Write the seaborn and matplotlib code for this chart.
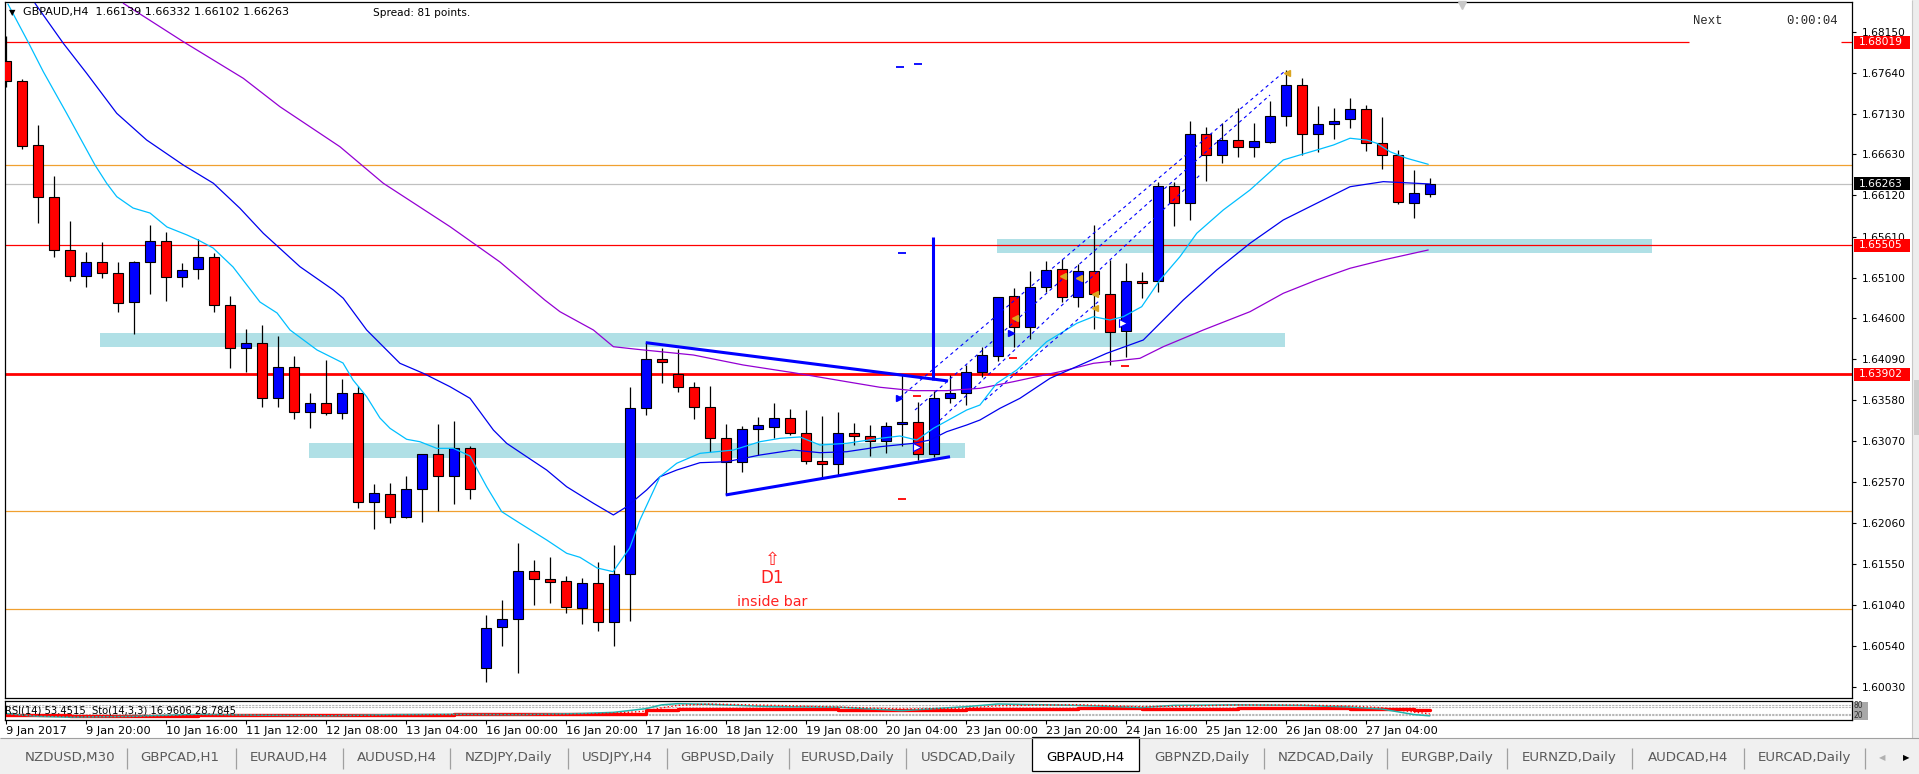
import matplotlib
matplotlib.use("Agg")
import matplotlib.pyplot as plt
import matplotlib.transforms as mtransforms
from matplotlib.patches import Rectangle
import seaborn as sns

# GBPAUD H4, 90 bars: 9 Jan 2017 00:00 ... 27 Jan 2017 20:00
opens = [1.67787, 1.67539, 1.66745, 1.66097, 1.65444, 1.65121, 1.65291, 1.65155, 1.64795, 1.65291,
         1.65555, 1.65105, 1.65204, 1.65353, 1.64762, 1.64225, 1.64287, 1.63605, 1.63997, 1.63432,
         1.63543, 1.63419, 1.63667, 1.62323, 1.62415, 1.62130, 1.62477, 1.62911, 1.62646, 1.62985,
         1.60258, 1.60766, 1.60866, 1.61461, 1.61361, 1.61337, 1.61002, 1.61312, 1.60836, 1.61423,
         1.63481, 1.64089, 1.63903, 1.63742, 1.63494, 1.63109, 1.62812, 1.63221, 1.63253, 1.63357,
         1.63171, 1.62832, 1.62787, 1.63171, 1.63142, 1.63080, 1.63283, 1.63308, 1.62911, 1.63605,
         1.63667, 1.63935, 1.64133, 1.64870, 1.64486, 1.64981, 1.65204, 1.64857, 1.65183, 1.64895,
         1.64443, 1.65059, 1.65059, 1.66237, 1.66023, 1.66878, 1.66618, 1.66807, 1.66724, 1.66786,
         1.67101, 1.67486, 1.66878, 1.67002, 1.67064, 1.67188, 1.66767, 1.66618, 1.66030, 1.66139]
highs = [1.68097, 1.67564, 1.66993, 1.66365, 1.65807, 1.65415, 1.65539, 1.65291, 1.65307, 1.65754,
         1.65663, 1.65279, 1.65576, 1.65403, 1.64877, 1.64464, 1.64514, 1.64378, 1.64130, 1.63667,
         1.64080, 1.63845, 1.63758, 1.62543, 1.62552, 1.62642, 1.62915, 1.63287, 1.63324, 1.63014,
         1.60919, 1.61105, 1.61808, 1.61601, 1.61638, 1.61402, 1.61381, 1.61580, 1.61787, 1.63742,
         1.64295, 1.64225, 1.64213, 1.63804, 1.63758, 1.63287, 1.63262, 1.63377, 1.63543, 1.63473,
         1.63460, 1.63386, 1.63432, 1.63295, 1.63274, 1.63308, 1.63894, 1.63556, 1.63700, 1.63894,
         1.64018, 1.64245, 1.64862, 1.64969, 1.65183, 1.65307, 1.65329, 1.65267, 1.65754, 1.65320,
         1.65286, 1.65171, 1.66283, 1.66283, 1.67043, 1.66965, 1.67022, 1.67200, 1.67022, 1.67291,
         1.67675, 1.67572, 1.67229, 1.67208, 1.67324, 1.67241, 1.67093, 1.66683, 1.66436, 1.66332]
lows = [1.67461, 1.66696, 1.65782, 1.65361, 1.65063, 1.64989, 1.65093, 1.64679, 1.64399, 1.64895,
        1.64815, 1.64989, 1.65080, 1.64679, 1.63977, 1.63935, 1.63501, 1.63501, 1.63345, 1.63241,
        1.63402, 1.63352, 1.62249, 1.61989, 1.62063, 1.62125, 1.62076, 1.62208, 1.62299, 1.62361,
        1.60092, 1.60538, 1.60204, 1.61047, 1.61071, 1.60940, 1.60803, 1.60724, 1.60538, 1.60848,
        1.63398, 1.63799, 1.63687, 1.63352, 1.62943, 1.62407, 1.62695, 1.62902, 1.63109, 1.63150,
        1.62791, 1.62614, 1.62654, 1.63026, 1.62890, 1.62931, 1.63018, 1.62840, 1.62881, 1.63543,
        1.63522, 1.63873, 1.64068, 1.64241, 1.64337, 1.64927, 1.64795, 1.64741, 1.64461, 1.64018,
        1.64121, 1.64845, 1.64927, 1.65745, 1.65816, 1.66303, 1.66526, 1.66600, 1.66600, 1.66774,
        1.66981, 1.66622, 1.66662, 1.66824, 1.66960, 1.66675, 1.66452, 1.66018, 1.65844, 1.66102]
closes = [1.67539, 1.66737, 1.66097, 1.65444, 1.65121, 1.65291, 1.65155, 1.64783, 1.65291, 1.65555,
          1.65105, 1.65196, 1.65353, 1.64762, 1.64225, 1.64287, 1.63605, 1.63997, 1.63432, 1.63543,
          1.63419, 1.63667, 1.62323, 1.62428, 1.62130, 1.62477, 1.62911, 1.62646, 1.62985, 1.62477,
          1.60754, 1.60866, 1.61461, 1.61361, 1.61324, 1.61014, 1.61312, 1.60836, 1.61423, 1.63481,
          1.64089, 1.64052, 1.63742, 1.63494, 1.63109, 1.62812, 1.63221, 1.63271, 1.63357, 1.63171,
          1.62832, 1.62787, 1.63171, 1.63142, 1.63080, 1.63266, 1.63308, 1.62911, 1.63605, 1.63667,
          1.63935, 1.64142, 1.64857, 1.64486, 1.64981, 1.65196, 1.64857, 1.65183, 1.64895, 1.64431,
          1.65059, 1.65031, 1.66237, 1.66023, 1.66878, 1.66618, 1.66807, 1.66724, 1.66795, 1.67101,
          1.67486, 1.66878, 1.67002, 1.67043, 1.67188, 1.66767, 1.66618, 1.66043, 1.66147, 1.66263]

date_labels = ["9 Jan 2017", "9 Jan 20:00", "10 Jan 16:00", "11 Jan 12:00", "12 Jan 08:00",
               "13 Jan 04:00", "16 Jan 00:00", "16 Jan 20:00", "17 Jan 16:00", "18 Jan 12:00",
               "19 Jan 08:00", "20 Jan 04:00", "23 Jan 00:00", "23 Jan 20:00", "24 Jan 16:00",
               "25 Jan 12:00", "26 Jan 08:00", "27 Jan 04:00"]
price_ticks = [1.68150, 1.67640, 1.67130, 1.66630, 1.66120, 1.65610, 1.65100, 1.64600, 1.64090,
               1.63580, 1.63070, 1.62570, 1.62060, 1.61550, 1.61040, 1.60540, 1.60030]

# moving averages as (bar, price)
ma_fast = [(0.14, 1.68493), (1.41, 1.68019), (2.35, 1.67654), (3.81, 1.67138), (5.58, 1.66497),
           (6.31, 1.66271), (6.94, 1.66105), (7.96, 1.65964), (9.02, 1.65902), (10.08, 1.65729),
           (11.33, 1.65630), (12.02, 1.65568), (12.96, 1.65469), (14.21, 1.65233), (15.89, 1.64799),
           (16.96, 1.64663), (17.77, 1.64452), (19.46, 1.64204), (20.46, 1.64105), (21.08, 1.64043),
           (21.71, 1.63832), (22.56, 1.63625), (23.39, 1.63361), (24.02, 1.63233), (25.06, 1.63097),
           (25.89, 1.63067), (26.94, 1.62985), (27.98, 1.62985), (29.02, 1.62890), (30.06, 1.62509),
           (31.0, 1.62200), (32.14, 1.62056), (33.81, 1.61849), (35.06, 1.61684), (35.89, 1.61634),
           (36.96, 1.61502), (37.96, 1.61456), (39.0, 1.61749), (39.64, 1.62097), (40.89, 1.62633),
           (41.94, 1.62800), (43.39, 1.62923), (45.48, 1.62964), (47.14, 1.63067), (48.39, 1.63109),
           (49.64, 1.63126), (50.89, 1.63026), (52.56, 1.63047), (54.64, 1.63109), (55.89, 1.63138),
           (56.94, 1.63088), (57.98, 1.63233), (60.06, 1.63460), (60.89, 1.63522), (61.94, 1.63791),
           (63.19, 1.63956), (65.06, 1.64307), (66.1, 1.64431), (66.94, 1.64535), (67.98, 1.64617),
           (69.02, 1.64576), (69.85, 1.64617), (71.0, 1.64741), (72.14, 1.65072), (73.39, 1.65361),
           (74.44, 1.65651), (76.1, 1.65940), (77.77, 1.66188), (78.81, 1.66374), (79.85, 1.66560),
           (80.89, 1.66622), (81.94, 1.66683), (82.98, 1.66745), (84.02, 1.66829), (85.06, 1.66807),
           (85.69, 1.66767), (86.52, 1.66662), (87.56, 1.66581), (88.91, 1.66506)]
ma_mid = [(1.83, 1.68502), (3.6, 1.68006), (5.06, 1.67634), (6.94, 1.67138), (8.81, 1.66807),
          (11.1, 1.66497), (12.98, 1.66271), (14.64, 1.65961), (16.1, 1.65651), (18.39, 1.65237),
          (20.48, 1.64948), (21.1, 1.64845), (22.56, 1.64452), (24.64, 1.64039), (26.1, 1.63915),
          (27.77, 1.63749), (29.02, 1.63605), (29.64, 1.63439), (30.48, 1.63212), (31.31, 1.63047),
          (32.56, 1.62881), (33.81, 1.62716), (35.06, 1.62509), (35.89, 1.62407), (36.73, 1.62304),
          (37.98, 1.62159), (38.81, 1.62261), (40.06, 1.62469), (40.89, 1.62633), (41.94, 1.62716),
          (43.39, 1.62807), (45.06, 1.62819), (47.14, 1.62902), (49.22, 1.62964), (50.89, 1.62931),
          (52.56, 1.62943), (54.64, 1.63005), (56.73, 1.63047), (57.77, 1.63088), (58.81, 1.63191),
          (60.06, 1.63274), (60.89, 1.63336), (62.14, 1.63481), (63.39, 1.63605), (64.64, 1.63770),
          (65.27, 1.63853), (68.81, 1.64163), (71.1, 1.64328), (73.6, 1.64824), (75.69, 1.65196),
          (77.77, 1.65527), (79.85, 1.65816), (81.94, 1.66023), (84.02, 1.66228), (86.1, 1.66291),
          (89.02, 1.66262)]
ma_slow = [(7.35, 1.68502), (11.1, 1.68026), (14.85, 1.67572), (17.14, 1.67220), (20.89, 1.66724),
           (23.6, 1.66271), (27.77, 1.65733), (30.89, 1.65295), (33.69, 1.64824), (34.64, 1.64679),
           (36.73, 1.64452), (37.98, 1.64245), (39.44, 1.64213), (42.98, 1.64142), (46.1, 1.64018),
           (49.22, 1.63923), (52.56, 1.63811), (54.64, 1.63742), (56.73, 1.63700), (58.81, 1.63700),
           (60.89, 1.63729), (62.98, 1.63811), (64.64, 1.63882), (65.89, 1.63935), (67.98, 1.64039),
           (70.89, 1.64101), (72.35, 1.64245), (74.85, 1.64452), (77.77, 1.64679), (79.85, 1.64907),
           (81.94, 1.65072), (84.02, 1.65217), (86.1, 1.65320), (88.91, 1.65444)]

# drawn objects
red_levels = [1.65505, 1.63902]
top_red_level = 1.68019
orange_levels = [1.66497, 1.62204, 1.60990]
bid_price = 1.66263
zones = [(5.89, 79.96, 1.64245, 1.64411), (18.96, 59.96, 1.62869, 1.63055), (61.94, 102.9, 1.65410, 1.65580)]
trend_upper = ([40.0, 58.9], [1.64295, 1.63820])
trend_lower = ([45.0, 59.02], [1.62407, 1.62881])
fan_lines = [([55.87, 79.96], [1.63612, 1.67663]), ([56.83, 79.02], [1.63460, 1.67365]),
             ([58.08, 74.64], [1.63274, 1.66373]), ([61.2, 68.4], [1.63583, 1.64823])]
vline_bar, vline_prices = 57.98, (1.63832, 1.65601)
gold_marks = [(66.1, 1.65121), (67.1, 1.65100), (68.1, 1.64898), (68.1, 1.64725), (63.08, 1.64597), (80.06, 1.67642)]
blue_arrows = [(62.8, 1.64418), (55.8, 1.63605)]
white_arrows = [(56.94, 1.63005), (69.85, 1.64535)]
red_dashes = [(56.96, 1.63630), (62.96, 1.64101), (69.96, 1.64006), (56.0, 1.62352)]
blue_dashes = [(55.9, 1.67712), (57.0, 1.67750), (56.0, 1.65410)]

# RSI / stochastic sub-window (0-100)
sub_bars = [0, 2, 4, 8, 12, 16, 20, 24, 28, 32, 36, 38, 40, 41, 42, 44, 48, 52, 56, 60, 62, 67, 71, 73, 77, 81, 84, 86, 88, 89]
sto_main = [31, 14, 9, 14, 26, 21, 17, 24, 26, 24, 31, 38, 60, 83, 90, 86, 72, 69, 48, 72, 88, 80, 67, 80, 83, 80, 70, 58, 25, 17]
sto_signal = [25, 18, 12, 10, 20, 24, 19, 20, 25, 25, 27, 33, 45, 65, 80, 88, 80, 70, 58, 62, 78, 84, 72, 74, 82, 82, 76, 66, 40, 29]
rsi_vals = [22, 20, 18, 18, 20, 20, 22, 22, 30, 30, 28, 28, 50, 55, 60, 60, 58, 55, 55, 58, 60, 62, 60, 60, 62, 62, 60, 58, 54, 53]

tab_labels = ["NZDUSD,M30", "GBPCAD,H1", "EURAUD,H4", "AUDUSD,H4", "NZDJPY,Daily", "USDJPY,H4",
              "GBPUSD,Daily", "EURUSD,Daily", "USDCAD,Daily", "GBPAUD,H4", "GBPNZD,Daily",
              "NZDCAD,Daily", "EURGBP,Daily", "EURNZD,Daily", "AUDCAD,H4", "EURCAD,Daily"]
active_tab = "GBPAUD,H4"

# ---------------- layout (pixels) ----------------
W, H = 1919, 774
BAR_PX, BAR0_PX = 16.0, 5.7
PLOT_L, PLOT_R = 5, 1852
MAIN_TOP, MAIN_BOT = 2, 698
Y_TOP, Y_BOT = 1.68518, 1.59890
tab_centers = [70, 180, 289, 397, 509, 617, 727, 848, 968, 1085, 1202, 1326, 1447, 1569, 1688, 1804]
tab_seps = [127, 236, 343, 450, 568, 667, 789, 906, 1264, 1387, 1507, 1632, 1744, 1865]

sns.set_theme(style="white")
plt.rcParams["font.family"] = ["DejaVu Sans"]

fig = plt.figure(figsize=(W / 100, H / 100), dpi=100)
fig.patch.set_facecolor("white")


def frac_box(x0, y0, x1, y1):
    return [x0 / W, 1 - y1 / H, (x1 - x0) / W, (y1 - y0) / H]


xlim = ((PLOT_L - BAR0_PX) / BAR_PX, (PLOT_R - BAR0_PX) / BAR_PX)
px_price = (Y_TOP - Y_BOT) / (MAIN_BOT - MAIN_TOP)

ax = fig.add_axes(frac_box(PLOT_L, MAIN_TOP, PLOT_R, MAIN_BOT))
ax.set_facecolor("white")
ax.set_xlim(*xlim)
ax.set_ylim(Y_BOT, Y_TOP)

# zones and horizontal levels
for b0, b1, p0, p1 in zones:
    ax.add_patch(Rectangle((b0, p0), b1 - b0, p1 - p0, facecolor="#B0E0E6", edgecolor="none", zorder=0.5))
for p in orange_levels:
    ax.axhline(p, color="#F0A030", lw=0.9, zorder=1)
ax.axhline(bid_price, color="#C0C0C0", lw=0.9, zorder=1)
ax.axhline(red_levels[0], color="#FF0000", lw=0.9, zorder=1)
ax.axhline(red_levels[1], color="#FF0000", lw=2.0, zorder=1)
ax.hlines(top_red_level, xlim[0], 105.2, color="#FF0000", lw=0.9, zorder=1)
ax.hlines(top_red_level, 114.7, xlim[1], color="#FF0000", lw=0.9, zorder=1)

# candles
n = len(opens)
bars = list(range(n))
body_lo = [min(o, c) for o, c in zip(opens, closes)]
body_h = [max(abs(c - o), 0.00004) for o, c in zip(opens, closes)]
colors = ["#0000FF" if c >= o else "#FF0000" for o, c in zip(opens, closes)]
ax.vlines(bars, lows, highs, color="black", lw=0.9, zorder=3)
ax.bar(bars, body_h, bottom=body_lo, width=0.62, color=colors, edgecolor="black", linewidth=0.8, zorder=4)

# moving averages
for pts, col in [(ma_slow, "#9400D3"), (ma_mid, "#0000EE"), (ma_fast, "#00BFFF")]:
    xs = [p[0] for p in pts]
    ys = [p[1] for p in pts]
    sns.lineplot(x=xs, y=ys, ax=ax, color=col, lw=0.9, sort=False, estimator=None, zorder=5)

# drawn trend objects
ax.plot(*trend_upper, color="#0000FF", lw=2.2, zorder=6, solid_capstyle="butt")
ax.plot(*trend_lower, color="#0000FF", lw=2.2, zorder=6, solid_capstyle="butt")
for xs, ys in fan_lines:
    ax.plot(xs, ys, color="#0000FF", lw=0.8, ls=(0, (3, 3)), zorder=6)
ax.vlines(vline_bar, *vline_prices, color="#0000FF", lw=2.2, zorder=6)
for b, p in red_dashes:
    ax.hlines(p, b - 0.25, b + 0.25, color="#FF0000", lw=1.3, zorder=6)
for b, p in blue_dashes:
    ax.hlines(p, b - 0.25, b + 0.25, color="#0000FF", lw=1.3, zorder=6)
ax.plot([b for b, _ in gold_marks], [p for _, p in gold_marks], ls="none", marker="<", ms=5,
        color="#DAA520", zorder=7)
ax.plot([b for b, _ in blue_arrows], [p for _, p in blue_arrows], ls="none", marker=">", ms=5,
        color="#0000FF", zorder=7)
ax.plot([b for b, _ in white_arrows], [p for _, p in white_arrows], ls="none", marker=">", ms=6,
        markerfacecolor="white", markeredgecolor="#0000FF", markeredgewidth=0.8, zorder=7)

# D1 inside bar note
ax.text(47.9, 1.61601, "\u21e7", color="#FF2020", fontsize=13, ha="center", va="center", zorder=7)
ax.text(47.9, 1.61378, "D1", color="#FF2020", fontsize=12, ha="center", va="center", zorder=7)
ax.text(47.9, 1.61080, "inside bar", color="#FF2020", fontsize=10.3, ha="center", va="center", zorder=7)

# price scale on the right
ax.yaxis.tick_right()
ax.set_yticks(price_ticks)
ax.set_yticklabels([f"{p:.5f}" for p in price_ticks])
ax.tick_params(axis="y", right=True, left=False, labelright=True, labelleft=False,
               direction="out", length=3, width=0.8, pad=4, labelsize=7.7, colors="black")
ax.set_xticks([])
ax.set_xlabel("")
ax.set_ylabel("")
for s in ax.spines.values():
    s.set_color("black")
    s.set_linewidth(0.9)

trans = mtransforms.blended_transform_factory(ax.transAxes, ax.transData)
ax_w = PLOT_R - PLOT_L
for price, bg in [(top_red_level, "#FF0000"), (bid_price, "#000000"), (red_levels[0], "#FF0000"),
                  (red_levels[1], "#FF0000")]:
    ax.add_patch(Rectangle((1 + 2 / ax_w, price - 6.5 * px_price), 56 / ax_w, 13 * px_price,
                           transform=trans, facecolor=bg, edgecolor="none", clip_on=False, zorder=10))
    ax.text(1 + 7 / ax_w, price, f"{price:.5f}", transform=trans, color="white", fontsize=7.7,
            ha="left", va="center", clip_on=False, zorder=11)

# sub window: RSI + stochastic
axs = fig.add_axes(frac_box(PLOT_L, 700.7, PLOT_R, 720))
axs.set_facecolor("white")
axs.set_xlim(*xlim)
axs.set_ylim(-8, 108)
for lvl in [20, 30, 70, 80]:
    axs.axhline(lvl, color="#B8B8B8", lw=0.8, ls=(0, (2, 1)))
sns.lineplot(x=sub_bars, y=rsi_vals, ax=axs, color="#FF0000", lw=2.4, drawstyle="steps-post",
             sort=False, estimator=None)
sns.lineplot(x=sub_bars, y=sto_main, ax=axs, color="#20B2AA", lw=1.1, sort=False, estimator=None)
sns.lineplot(x=sub_bars, y=sto_signal, ax=axs, color="#FF0000", lw=1.0, ls=":", sort=False, estimator=None)
axs.text(0.0, 0.5, "RSI(14) 53.4515  Sto(14,3,3) 16.9606 28.7845", transform=axs.transAxes,
         fontsize=7.2, va="center", ha="left", color="black")
axs.set_yticks([])
axs.set_xticks(range(0, 5 * len(date_labels), 5))
axs.set_xticklabels(date_labels, ha="left")
axs.tick_params(axis="x", bottom=True, direction="out", length=3, width=0.8, pad=1, labelsize=8.2,
                colors="black")
axs.set_xlabel("")
axs.set_ylabel("")
for s in axs.spines.values():
    s.set_color("black")
    s.set_linewidth(0.9)

# overlay in pixel coordinates for window chrome
ov = fig.add_axes([0, 0, 1, 1])
ov.set_xlim(0, W)
ov.set_ylim(H, 0)
ov.axis("off")
ov.patch.set_alpha(0)

ov.text(12, 12.5, "\u25bc", fontsize=6, ha="center", va="center", color="black")
ov.text(23, 12.5, f"GBPAUD,H4  {opens[-1]:.5f} {highs[-1]:.5f} {lows[-1]:.5f} {closes[-1]:.5f}",
        fontsize=8, ha="left", va="center", color="black")
ov.text(373, 12.5, "Spread: 81 points.", fontsize=7.6, ha="left", va="center", color="black")
ov.text(1693, 21, "Next", fontsize=8.8, family="Liberation Mono", ha="left", va="center")
ov.text(1838, 21, "0:00:04", fontsize=8.8, family="Liberation Mono", ha="right", va="center")
ov.plot([1462], [5], marker="v", ms=6, color="#C8C8C8")

# sub-window scale labels
ov.add_patch(Rectangle((1853, 701.5), 15, 18, facecolor="#A8A8A8", edgecolor="none"))
ov.text(1854, 706, "80", fontsize=5.5, color="#303030", ha="left", va="center")
ov.text(1854, 715, "20", fontsize=5.5, color="#303030", ha="left", va="center")

# scrollbar on the right edge
ov.add_patch(Rectangle((1912, 0), 7, 738, facecolor="#EDEDED", edgecolor="none"))
ov.vlines(1912, 0, 738, color="#C8C8C8", lw=0.8)
ov.add_patch(Rectangle((1913.5, 380), 5, 55, facecolor="#CDCDCD", edgecolor="none"))

# tab bar
ov.add_patch(Rectangle((0, 738), W, 36, facecolor="#F0F0F0", edgecolor="none"))
ov.hlines(738, 0, W, color="#A0A0A0", lw=0.8)
for x in tab_seps:
    ov.vlines(x, 748, 769, color="#A0A0A0", lw=0.9)
for lab, cx in zip(tab_labels, tab_centers):
    if lab == active_tab:
        ov.add_patch(Rectangle((1032, 737), 107, 34, facecolor="white", edgecolor="black", lw=0.9))
        ov.text(cx, 757.5, lab, fontsize=9.6, ha="center", va="center", color="black")
    else:
        ov.text(cx, 757.5, lab, fontsize=9.6, ha="center", va="center", color="#5A5A5A")
ov.text(1882, 757.5, "\u25c0", fontsize=6, ha="center", va="center", color="#B0B0B0")
ov.text(1906, 757.5, "\u25b6", fontsize=6, ha="center", va="center", color="black")

fig.savefig("out.png", dpi=100, facecolor="white")
